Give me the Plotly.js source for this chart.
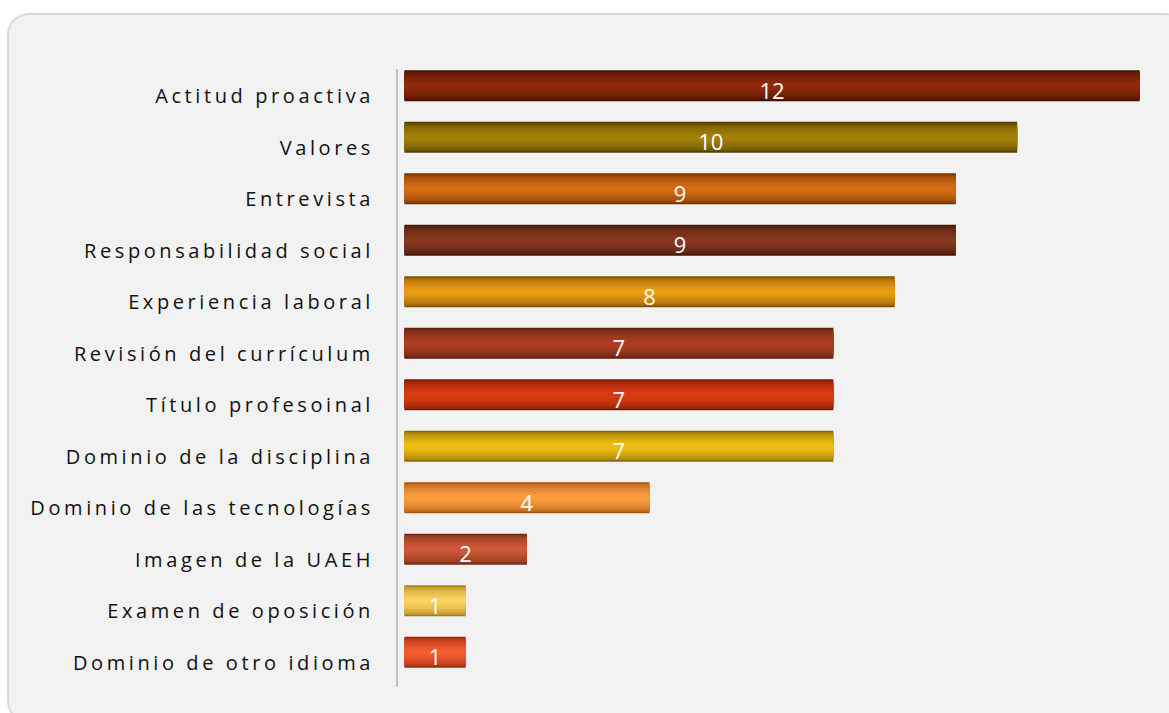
<!DOCTYPE html>
<html>
<head>
<meta charset="utf-8">
<script src="https://cdn.plot.ly/plotly-3.0.1.min.js"></script>
<style>
  html, body { margin:0; padding:0; background:#ffffff; width:1169px; height:713px; overflow:hidden; }
  #card { position:absolute; left:7px; top:13px; width:1180px; height:710px; box-sizing:border-box;
          background:#f2f2f2; border:2px solid #d9d9d9; border-radius:22px; }
  #chart { position:absolute; left:0; top:0; width:1169px; height:713px; }
  #chart .y2tick text { letter-spacing: 3.6px; }
</style>
</head>
<body>
<div id="card"></div>
<div id="chart"></div>
<script>
const categories = [
  "Actitud proactiva", "Valores", "Entrevista", "Responsabilidad social",
  "Experiencia laboral", "Revisión del currículum", "Título profesoinal",
  "Dominio de la disciplina", "Dominio de las tecnologías", "Imagen de la UAEH",
  "Examen de oposición", "Dominio de otro idioma"
];
const values = [12, 10, 9, 9, 8, 7, 7, 7, 4, 2, 1, 1];
const edgeColors = ["#420d02","#524000","#733300","#421809","#845000","#5c1e0d",
                    "#781903","#8a6800","#a95510","#742815","#a87e1c","#9a280b"];
const lightColors = ["#8e2a0a","#a3800a","#d46c14","#87381e","#e89c14","#ad3e22",
                     "#da3c12","#eebe14","#fb9c3e","#cd5838","#fcd25e","#f55c30"];

function hex2rgb(h) { return [1,3,5].map(i => parseInt(h.substr(i,2),16)); }
function mix(a, b, t) {
  const A = hex2rgb(a), B = hex2rgb(b);
  return "rgb(" + A.map((v,i) => Math.round(v + (B[i]-v)*t)).join(",") + ")";
}

const common = {
  type: "bar", orientation: "h", x: values, y: categories,
  hoverinfo: "skip", showlegend: false
};
const traces = [];
const steps = 10;
for (let k = 0; k < steps; k++) {
  const f = k / (steps - 1);              // 0 = outer edge, 1 = centre highlight
  const w = 0.6 - f * 0.5;
  const t = Math.sqrt(f);
  traces.push(Object.assign({}, common, {
    width: w,
    marker: { color: edgeColors.map((c, i) => mix(c, lightColors[i], t)), line: { width: 0 } }
  }));
}
// value labels (slightly below bar centre, as in the original)
traces.push(Object.assign({}, common, {
  yaxis: "y3",
  width: 0.6, marker: { color: "rgba(0,0,0,0)", line: { width: 0 } },
  text: values.map(String), textposition: "inside", insidetextanchor: "middle",
  textangle: 0, constraintext: "none",
  textfont: { color: "#ffffff", size: 22, family: "Open Sans, Liberation Sans, sans-serif" }
}));
// category labels axis carrier
traces.push({
  type: "scatter", mode: "markers", x: values, y: categories, yaxis: "y2",
  marker: { opacity: 0, size: 1 }, hoverinfo: "skip", showlegend: false
});

const N = categories.length;
const layout = {
  width: 1169, height: 713,
  margin: { l: 397, r: 14, t: 60, b: 35 },
  paper_bgcolor: "rgba(0,0,0,0)", plot_bgcolor: "rgba(0,0,0,0)",
  barmode: "overlay",
  xaxis: { range: [-0.12, 12.25], visible: false, fixedrange: true },
  yaxis: {
    type: "category", categoryorder: "array", categoryarray: categories,
    range: [N - 0.5, -0.5], showticklabels: false, showline: false,
    ticks: "", showgrid: false, zeroline: false
  },
  yaxis2: {
    type: "category", categoryorder: "array", categoryarray: categories,
    overlaying: "y", anchor: "x", side: "left",
    range: [N - 0.5 - 0.2, -0.5 - 0.2], showline: false,
    ticks: "", showgrid: false, zeroline: false, ticklabelstandoff: 22,
    tickfont: { family: "Open Sans, Noto Sans, sans-serif", size: 20, color: "#111111" }
  },
  yaxis3: {
    type: "category", categoryorder: "array", categoryarray: categories,
    overlaying: "y", anchor: "x", side: "left",
    range: [N - 0.5 - 0.078, -0.5 - 0.078], showticklabels: false, showline: false,
    ticks: "", showgrid: false, zeroline: false
  },
  shapes: [{
    type: "line", xref: "paper", yref: "paper", x0: 0, x1: 0,
    y0: -0.0146, y1: 0.9854, line: { color: "#bfbfbf", width: 2 }
  }],
  font: { family: "Open Sans, sans-serif" }
};

Plotly.newPlot("chart", traces, layout, { displayModeBar: false, staticPlot: true });
</script>
</body>
</html>
